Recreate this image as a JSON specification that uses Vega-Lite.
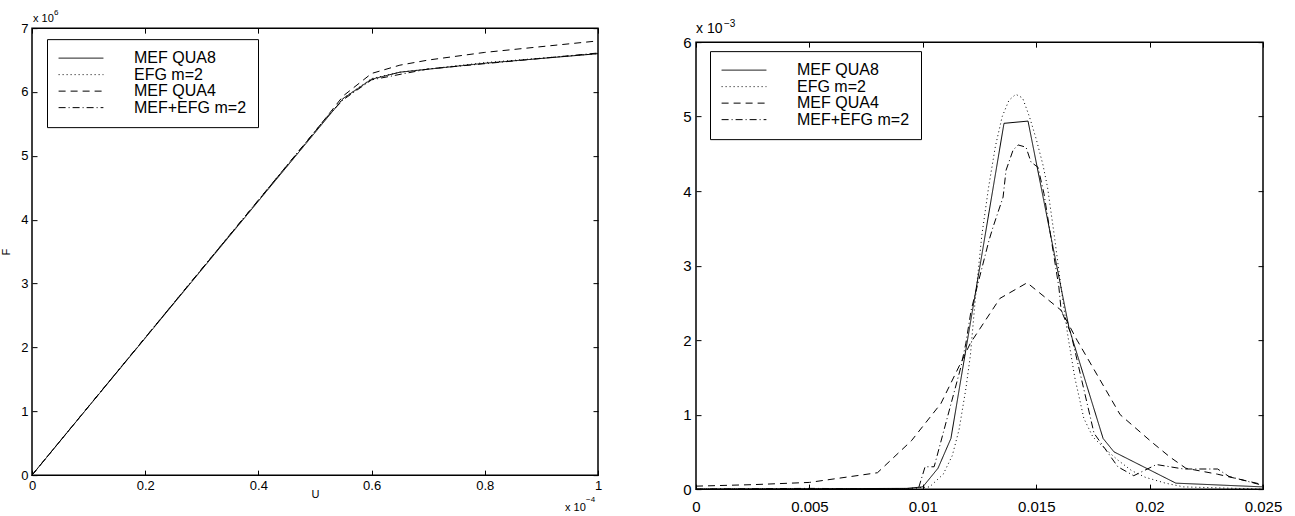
{
  "$schema": "https://vega.github.io/schema/vega-lite/v6.json",
  "padding": {"left": 0, "top": 8, "right": 5, "bottom": 3},
  "config": {
    "font": "Liberation Sans",
    "view": {"stroke": "black", "strokeWidth": 1.5},
    "axis": {"domain": false, "grid": false, "labelFlush": false, "tickColor": "black", "labelColor": "black", "titleColor": "black", "tickSize": 5, "offset": -5, "tickWidth": 1, "titleFontWeight": "normal", "labelFont": "Liberation Sans", "titleFont": "Liberation Sans"},
    "text": {"font": "Liberation Sans", "color": "black"},
    "legend": {"title": null, "orient": "none", "direction": "vertical", "symbolType": "M-3.2,0H3.2", "symbolSize": 196, "symbolOffset": 15, "symbolStrokeWidth": 1, "symbolStrokeColor": "black", "labelFontSize": 16, "labelFont": "Liberation Sans", "labelColor": "black", "labelOffset": 45, "padding": 11, "rowPadding": 0.5, "fillColor": "white", "strokeColor": "black"}
  },
  "datasets": {
    "left": [
      {"s": "MEF QUA8", "U": 0, "F": 0}, {"s": "MEF QUA8", "U": 0.55, "F": 5.9}, {"s": "MEF QUA8", "U": 0.6, "F": 6.2}, {"s": "MEF QUA8", "U": 0.65, "F": 6.31}, {"s": "MEF QUA8", "U": 0.8, "F": 6.45}, {"s": "MEF QUA8", "U": 1, "F": 6.6},
      {"s": "EFG m=2", "U": 0, "F": 0}, {"s": "EFG m=2", "U": 0.5, "F": 5.38}, {"s": "EFG m=2", "U": 0.55, "F": 5.9}, {"s": "EFG m=2", "U": 0.6, "F": 6.21}, {"s": "EFG m=2", "U": 0.65, "F": 6.31}, {"s": "EFG m=2", "U": 0.8, "F": 6.46}, {"s": "EFG m=2", "U": 1, "F": 6.6},
      {"s": "MEF QUA4", "U": 0, "F": 0}, {"s": "MEF QUA4", "U": 0.5, "F": 5.38}, {"s": "MEF QUA4", "U": 0.55, "F": 5.94}, {"s": "MEF QUA4", "U": 0.6, "F": 6.29}, {"s": "MEF QUA4", "U": 0.65, "F": 6.42}, {"s": "MEF QUA4", "U": 0.7, "F": 6.5}, {"s": "MEF QUA4", "U": 0.8, "F": 6.62}, {"s": "MEF QUA4", "U": 1, "F": 6.8},
      {"s": "MEF+EFG m=2", "U": 0, "F": 0}, {"s": "MEF+EFG m=2", "U": 0.52, "F": 5.6}, {"s": "MEF+EFG m=2", "U": 0.55, "F": 5.88}, {"s": "MEF+EFG m=2", "U": 0.6, "F": 6.19}, {"s": "MEF+EFG m=2", "U": 0.7, "F": 6.36}, {"s": "MEF+EFG m=2", "U": 1, "F": 6.61}
    ],
    "right": [
      {"s": "MEF QUA8", "x": 0, "y": 0}, {"s": "MEF QUA8", "x": 0.005, "y": 0.005}, {"s": "MEF QUA8", "x": 0.0093, "y": 0.01}, {"s": "MEF QUA8", "x": 0.01, "y": 0.03}, {"s": "MEF QUA8", "x": 0.01067, "y": 0.28}, {"s": "MEF QUA8", "x": 0.01124, "y": 0.68}, {"s": "MEF QUA8", "x": 0.01358, "y": 4.91}, {"s": "MEF QUA8", "x": 0.01464, "y": 4.94}, {"s": "MEF QUA8", "x": 0.01645, "y": 2.16}, {"s": "MEF QUA8", "x": 0.01795, "y": 0.68}, {"s": "MEF QUA8", "x": 0.01843, "y": 0.5}, {"s": "MEF QUA8", "x": 0.02116, "y": 0.08}, {"s": "MEF QUA8", "x": 0.025, "y": 0.03},
      {"s": "EFG m=2", "x": 0, "y": 0}, {"s": "EFG m=2", "x": 0.009, "y": 0}, {"s": "EFG m=2", "x": 0.0103, "y": 0.03}, {"s": "EFG m=2", "x": 0.0109, "y": 0.2}, {"s": "EFG m=2", "x": 0.0113, "y": 0.45}, {"s": "EFG m=2", "x": 0.0116, "y": 0.8}, {"s": "EFG m=2", "x": 0.0119, "y": 1.35}, {"s": "EFG m=2", "x": 0.0121, "y": 1.8}, {"s": "EFG m=2", "x": 0.0123, "y": 2.5}, {"s": "EFG m=2", "x": 0.0126, "y": 3.4}, {"s": "EFG m=2", "x": 0.0129, "y": 4.05}, {"s": "EFG m=2", "x": 0.0132, "y": 4.6}, {"s": "EFG m=2", "x": 0.0135, "y": 5.0}, {"s": "EFG m=2", "x": 0.0138, "y": 5.22}, {"s": "EFG m=2", "x": 0.0141, "y": 5.3}, {"s": "EFG m=2", "x": 0.0144, "y": 5.25}, {"s": "EFG m=2", "x": 0.0147, "y": 5.0}, {"s": "EFG m=2", "x": 0.015, "y": 4.7}, {"s": "EFG m=2", "x": 0.0153, "y": 4.35}, {"s": "EFG m=2", "x": 0.0155, "y": 4.05}, {"s": "EFG m=2", "x": 0.0158, "y": 3.4}, {"s": "EFG m=2", "x": 0.0161, "y": 2.7}, {"s": "EFG m=2", "x": 0.0164, "y": 2.05}, {"s": "EFG m=2", "x": 0.0167, "y": 1.5}, {"s": "EFG m=2", "x": 0.0171, "y": 0.95}, {"s": "EFG m=2", "x": 0.0175, "y": 0.7}, {"s": "EFG m=2", "x": 0.018, "y": 0.55}, {"s": "EFG m=2", "x": 0.0186, "y": 0.39}, {"s": "EFG m=2", "x": 0.0192, "y": 0.25}, {"s": "EFG m=2", "x": 0.0198, "y": 0.16}, {"s": "EFG m=2", "x": 0.0207, "y": 0.08}, {"s": "EFG m=2", "x": 0.0215, "y": 0.03}, {"s": "EFG m=2", "x": 0.025, "y": 0.0},
      {"s": "MEF QUA4", "x": 0, "y": 0.04}, {"s": "MEF QUA4", "x": 0.0025, "y": 0.06}, {"s": "MEF QUA4", "x": 0.005, "y": 0.09}, {"s": "MEF QUA4", "x": 0.008, "y": 0.22}, {"s": "MEF QUA4", "x": 0.0095, "y": 0.65}, {"s": "MEF QUA4", "x": 0.0108, "y": 1.15}, {"s": "MEF QUA4", "x": 0.0121, "y": 1.96}, {"s": "MEF QUA4", "x": 0.0134, "y": 2.56}, {"s": "MEF QUA4", "x": 0.0146, "y": 2.77}, {"s": "MEF QUA4", "x": 0.0161, "y": 2.4}, {"s": "MEF QUA4", "x": 0.0168, "y": 2.0}, {"s": "MEF QUA4", "x": 0.0187, "y": 1.0}, {"s": "MEF QUA4", "x": 0.0201, "y": 0.63}, {"s": "MEF QUA4", "x": 0.0209, "y": 0.43}, {"s": "MEF QUA4", "x": 0.0216, "y": 0.28}, {"s": "MEF QUA4", "x": 0.023, "y": 0.2}, {"s": "MEF QUA4", "x": 0.025, "y": 0.06},
      {"s": "MEF+EFG m=2", "x": 0, "y": 0}, {"s": "MEF+EFG m=2", "x": 0.005, "y": 0.01}, {"s": "MEF+EFG m=2", "x": 0.0098, "y": 0.0}, {"s": "MEF+EFG m=2", "x": 0.0101, "y": 0.3}, {"s": "MEF+EFG m=2", "x": 0.0105, "y": 0.3}, {"s": "MEF+EFG m=2", "x": 0.01168, "y": 1.64}, {"s": "MEF+EFG m=2", "x": 0.0119, "y": 1.96}, {"s": "MEF+EFG m=2", "x": 0.01213, "y": 2.4}, {"s": "MEF+EFG m=2", "x": 0.01292, "y": 3.34}, {"s": "MEF+EFG m=2", "x": 0.0131, "y": 3.52}, {"s": "MEF+EFG m=2", "x": 0.01354, "y": 3.92}, {"s": "MEF+EFG m=2", "x": 0.01367, "y": 4.28}, {"s": "MEF+EFG m=2", "x": 0.01398, "y": 4.55}, {"s": "MEF+EFG m=2", "x": 0.0142, "y": 4.62}, {"s": "MEF+EFG m=2", "x": 0.01455, "y": 4.59}, {"s": "MEF+EFG m=2", "x": 0.01477, "y": 4.39}, {"s": "MEF+EFG m=2", "x": 0.01508, "y": 4.32}, {"s": "MEF+EFG m=2", "x": 0.01534, "y": 3.97}, {"s": "MEF+EFG m=2", "x": 0.016, "y": 2.71}, {"s": "MEF+EFG m=2", "x": 0.0161, "y": 2.4}, {"s": "MEF+EFG m=2", "x": 0.01653, "y": 2.09}, {"s": "MEF+EFG m=2", "x": 0.01755, "y": 0.75}, {"s": "MEF+EFG m=2", "x": 0.0186, "y": 0.3}, {"s": "MEF+EFG m=2", "x": 0.0193, "y": 0.18}, {"s": "MEF+EFG m=2", "x": 0.0203, "y": 0.33}, {"s": "MEF+EFG m=2", "x": 0.0215, "y": 0.27}, {"s": "MEF+EFG m=2", "x": 0.023, "y": 0.27}, {"s": "MEF+EFG m=2", "x": 0.0235, "y": 0.17}, {"s": "MEF+EFG m=2", "x": 0.025, "y": 0.05}
    ]
  },
  "resolve": {"scale": {"strokeDash": "independent"}, "legend": {"strokeDash": "independent"}},
  "spacing": 78,
  "center": true,
  "hconcat": [
    {
      "width": 566,
      "height": 447,
      "resolve": {"axis": {"x": "independent", "y": "independent"}},
      "layer": [
        {
          "data": {"name": "left"},
          "mark": {"type": "line", "color": "black", "strokeWidth": 1},
          "encoding": {
            "x": {"field": "U", "type": "quantitative", "scale": {"domain": [0, 1], "nice": false, "zero": false}, "axis": {"orient": "bottom", "values": [0, 0.2, 0.4, 0.6, 0.8, 1], "format": "~g", "labelFontSize": 13, "labelPadding": 4, "title": "U", "titleFontSize": 11, "titlePadding": -4}},
            "y": {"field": "F", "type": "quantitative", "scale": {"domain": [0, 7], "nice": false, "zero": false}, "axis": {"orient": "left", "values": [0, 1, 2, 3, 4, 5, 6, 7], "labelFontSize": 13, "labelPadding": 4, "title": "F", "titleFontSize": 11, "titlePadding": 9}},
            "strokeDash": {"field": "s", "type": "nominal", "scale": {"domain": ["MEF QUA8", "EFG m=2", "MEF QUA4", "MEF+EFG m=2"], "range": [[1, 0], [1, 3], [7, 5], [7, 3, 1, 3]]}, "legend": {"legendX": 15, "legendY": 11}}
          }
        },
        {
          "data": {"name": "left"},
          "mark": {"type": "line", "opacity": 0},
          "encoding": {
            "x": {"field": "U", "type": "quantitative", "scale": {"domain": [0, 1], "nice": false, "zero": false}, "axis": {"orient": "top", "values": [0, 0.2, 0.4, 0.6, 0.8, 1], "labels": false, "title": null}},
            "y": {"field": "F", "type": "quantitative", "scale": {"domain": [0, 7], "nice": false, "zero": false}, "axis": {"orient": "right", "values": [0, 1, 2, 3, 4, 5, 6, 7], "labels": false, "title": null}},
            "detail": {"field": "s"}
          }
        },
        {
          "data": {"values": [{}]},
          "mark": {"type": "text", "text": "x 10", "align": "left", "baseline": "alphabetic", "fontSize": 11, "dx": 1, "dy": -6},
          "encoding": {"x": {"datum": 0, "type": "quantitative", "axis": null}, "y": {"datum": 7, "type": "quantitative", "axis": null}}
        },
        {
          "data": {"values": [{}]},
          "mark": {"type": "text", "text": "6", "align": "left", "baseline": "alphabetic", "fontSize": 8, "dx": 22, "dy": -13},
          "encoding": {"x": {"datum": 0, "type": "quantitative", "axis": null}, "y": {"datum": 7, "type": "quantitative", "axis": null}}
        },
        {
          "data": {"values": [{}]},
          "mark": {"type": "text", "text": "x 10", "align": "left", "baseline": "alphabetic", "fontSize": 11, "dx": -33, "dy": 36},
          "encoding": {"x": {"datum": 1, "type": "quantitative", "axis": null}, "y": {"datum": 0, "type": "quantitative", "axis": null}}
        },
        {
          "data": {"values": [{}]},
          "mark": {"type": "text", "text": "−4", "align": "left", "baseline": "alphabetic", "fontSize": 8, "dx": -12, "dy": 27},
          "encoding": {"x": {"datum": 1, "type": "quantitative", "axis": null}, "y": {"datum": 0, "type": "quantitative", "axis": null}}
        },
        {
          "data": {"values": [{}]},
          "mark": {"type": "text", "text": " ", "align": "left", "baseline": "top", "fontSize": 10, "dx": 0, "dy": 43},
          "encoding": {"x": {"datum": 0, "type": "quantitative", "axis": null}, "y": {"datum": 0, "type": "quantitative", "axis": null}}
        }
      ]
    },
    {
      "width": 567,
      "height": 447,
      "resolve": {"axis": {"x": "independent", "y": "independent"}},
      "layer": [
        {
          "data": {"name": "right"},
          "mark": {"type": "line", "color": "black", "strokeWidth": 1},
          "encoding": {
            "x": {"field": "x", "type": "quantitative", "scale": {"domain": [0, 0.025], "nice": false, "zero": false}, "axis": {"orient": "bottom", "values": [0, 0.005, 0.01, 0.015, 0.02, 0.025], "format": "~g", "labelFontSize": 15, "labelPadding": 10, "title": null}},
            "y": {"field": "y", "type": "quantitative", "scale": {"domain": [0, 6], "nice": false, "zero": false}, "axis": {"orient": "left", "values": [0, 1, 2, 3, 4, 5, 6], "labelFontSize": 15, "labelPadding": 5, "title": null}},
            "strokeDash": {"field": "s", "type": "nominal", "scale": {"domain": ["MEF QUA8", "EFG m=2", "MEF QUA4", "MEF+EFG m=2"], "range": [[1, 0], [1, 3], [7, 5], [7, 3, 1, 3]]}, "legend": {"legendX": 14, "legendY": 9}}
          }
        },
        {
          "data": {"name": "right"},
          "mark": {"type": "line", "opacity": 0},
          "encoding": {
            "x": {"field": "x", "type": "quantitative", "scale": {"domain": [0, 0.025], "nice": false, "zero": false}, "axis": {"orient": "top", "values": [0, 0.005, 0.01, 0.015, 0.02, 0.025], "labels": false, "title": null}},
            "y": {"field": "y", "type": "quantitative", "scale": {"domain": [0, 6], "nice": false, "zero": false}, "axis": {"orient": "right", "values": [0, 1, 2, 3, 4, 5, 6], "labels": false, "title": null}},
            "detail": {"field": "s"}
          }
        },
        {
          "data": {"values": [{}]},
          "mark": {"type": "text", "text": "x 10", "align": "left", "baseline": "alphabetic", "fontSize": 14, "dx": 0, "dy": -9},
          "encoding": {"x": {"datum": 0, "type": "quantitative", "axis": null}, "y": {"datum": 6, "type": "quantitative", "axis": null}}
        },
        {
          "data": {"values": [{}]},
          "mark": {"type": "text", "text": "−3", "align": "left", "baseline": "alphabetic", "fontSize": 10, "dx": 28, "dy": -15},
          "encoding": {"x": {"datum": 0, "type": "quantitative", "axis": null}, "y": {"datum": 6, "type": "quantitative", "axis": null}}
        }
      ]
    }
  ]
}
